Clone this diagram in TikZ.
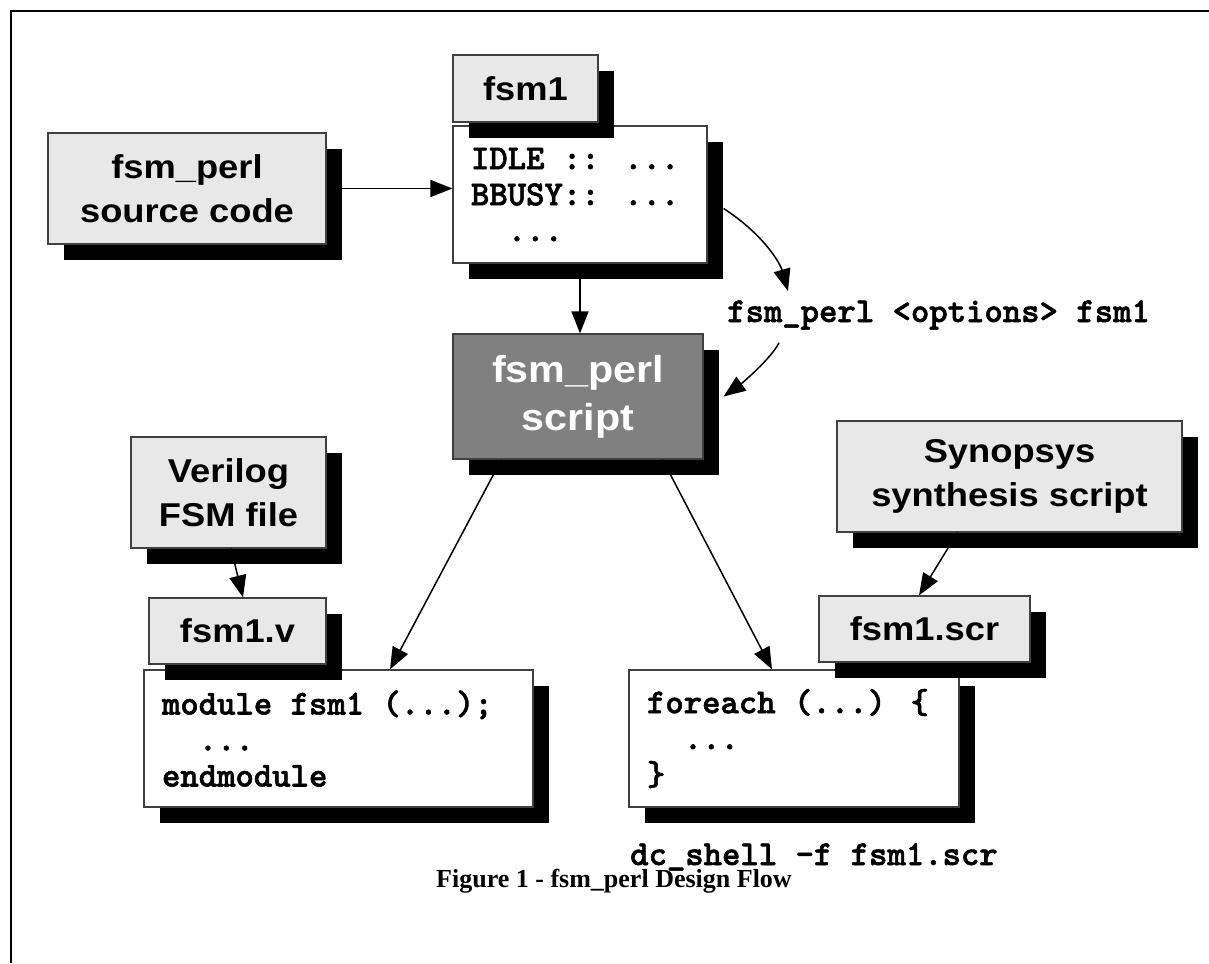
\documentclass[tikz,border=0pt]{standalone}
\usepackage{fontspec}
\setmainfont{Liberation Serif}
\newfontfamily\boxfont[FakeStretch=1.1]{Liberation Sans}
\newfontfamily\codefont[Extension=.otf, FakeBold=1.6]{lmmonolt10-bold}
\usetikzlibrary{arrows.meta,shadows}
\definecolor{boxgray}{gray}{0.91}
\definecolor{scriptgray}{gray}{0.5}
\definecolor{edgegray}{gray}{0.25}

\begin{document}
\begin{tikzpicture}[x=1pt, y=-1pt,
		blackshadow/.style={drop shadow={shadow xshift=16pt, shadow yshift=-16pt, opacity=1, fill=black, draw=none}},
		labelbox/.style={blackshadow, draw=edgegray, line width=1.2pt, fill=boxgray, inner sep=0pt, align=flush center,
			font=\boxfont\bfseries\fontsize{33}{44}\selectfont},
		codebox/.style={blackshadow, draw=edgegray, line width=1.2pt, fill=white, inner xsep=18pt, inner ysep=0pt, align=flush left,
			font=\codefont\fontsize{35}{36}\selectfont},
		codetext/.style={inner sep=0pt, font=\codefont\fontsize{35}{36}\selectfont},
		flow/.style={-{Triangle[length=22pt,width=17pt]}, line width=1.5pt}]
		\useasboundingbox (0,0) rectangle (1209,963);
		\draw[line width=2pt] (1209,11) -- (11,11) -- (11,963);

		\node[labelbox, minimum width=278pt, minimum height=111pt] (src) at (187,188.5) {fsm\_perl\\source code};
		\node[codebox, text width=218pt, minimum height=137pt] (idle) at (580,194.5) {IDLE :: ...\\BBUSY:: ...\\\phantom{xx}...};
		\node[labelbox, minimum width=145pt, minimum height=67pt] (fsmtab) at (525.5,88.5) {fsm1};
		\node[labelbox, fill=scriptgray, text=white, minimum width=250pt, minimum height=125pt,
			font=\boxfont\bfseries\fontsize{37.5}{48}\selectfont] (script) at (578,396.5) {fsm\_perl\\script};

		\node[labelbox, minimum width=195pt, minimum height=111pt] (verilog) at (228.5,492.5) {Verilog\\FSM file};
		\node[codebox, text width=353pt, minimum height=137pt] (module) at (338.5,738.5) {module fsm1 (...);\\\phantom{xx}...\\endmodule};
		\node[labelbox, minimum width=177pt, minimum height=66pt] (fsmv) at (237.5,631) {fsm1.v};

		\node[labelbox, minimum width=345pt, minimum height=111pt] (synopsys) at (1009.5,476.5) {Synopsys\\synthesis script};
		\node[codebox, text width=294pt, minimum height=137pt] (foreach) at (794,738.5) {foreach (...) \{\\\phantom{xx}...\\\}};
		\node[labelbox, minimum width=211pt, minimum height=66pt] (fsmscr) at (924.5,629) {fsm1.scr};

		\node[codetext, anchor=base west] (opts) at (727,322) {fsm\_perl <options> fsm1};
		\node[codetext, anchor=base west] (dc) at (630,865) {dc\_shell -f fsm1.scr};
		\node[anchor=base, inner sep=0pt, font=\bfseries\fontsize{26}{30}\selectfont] (caption) at (614,887) {Figure 1 - fsm\_perl Design Flow};

		\draw[flow] (src.east) -- (src.east -| idle.west);
		\draw[flow] (idle.south) -- (idle.south |- script.north);
		\draw[flow] ([xshift=49pt]script.south west) -- ([xshift=51.5pt]module.north);
		\draw[flow] ([xshift=-41pt]script.south east) -- ([xshift=-22pt]foreach.north);
		\draw[flow] ([xshift=2.5pt]verilog.south) -- ([xshift=5.5pt]fsmv.north);
		\draw[flow] ([xshift=-52pt]synopsys.south) -- ([xshift=-5.5pt]fsmscr.north);
		\draw[flow] ([xshift=16pt,yshift=-14pt]idle.east) .. controls +(40,26) and +(-8,-28) .. ([xshift=61pt,yshift=9pt]opts.north west);
		\draw[flow] ([xshift=52pt,yshift=-13pt]opts.south west) .. controls +(-8,16) and +(18,-13) .. ([xshift=20pt]script.east);
	\end{tikzpicture}
\end{document}
